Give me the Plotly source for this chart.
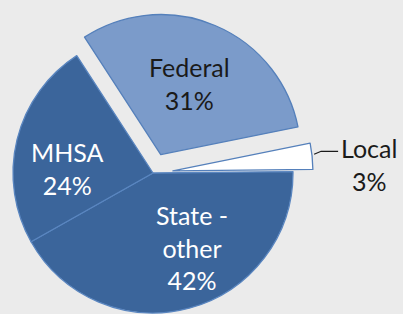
import numpy as np
import plotly.graph_objects as go

# ---- data ----
labels = ["Federal", "Local", "State - other", "MHSA"]
values = [31, 3, 42, 24]
display_labels = ["Federal", "Local", "State -<br>other", "MHSA"]
pulled = [True, True, False, False]
colors = ["#7b9bca", "#ffffff", "#3b659b", "#3b659b"]
line_colors = ["#5580bb", "#5580bb", "#5a86c0", "#5a86c0"]
text_colors = ["#1a1a1a", "#1a1a1a", "#ffffff", "#ffffff"]

# ---- layout / style constants ----
W, H = 403, 314
R = 140
CX, CY = 153, 173
PULL = 20
ROT = -33
BG = "#ebebeb"
FONT = "Lato"
FS = 25
# label placement (angle clockwise from 12 o'clock in degrees, distance in px)
# relative to each slice's own (pulled) centre; None = outside label
label_polar = [(22.2, 77), None, (152.2, 84), (273.3, 86)]

vals = np.array(values, dtype=float)
total = vals.sum()
start = ROT + 360 * (np.cumsum(vals) - vals) / total
mid = np.deg2rad(start + 180 * vals / total)


def slice_center(i):
    if pulled[i]:
        return CX + PULL * np.sin(mid[i]), CY - PULL * np.cos(mid[i])
    return CX, CY


def domain(cx, cy):
    return dict(x=[(cx - R) / W, (cx + R) / W], y=[1 - (cy + R) / H, 1 - (cy - R) / H])


def pie_trace(show, cx, cy):
    n = len(values)
    return go.Pie(
        labels=labels,
        values=values,
        sort=False,
        direction="clockwise",
        rotation=ROT,
        domain=domain(cx, cy),
        marker=dict(
            colors=[colors[i] if show[i] else "rgba(0,0,0,0)" for i in range(n)],
            line=dict(
                color=[line_colors[i] if show[i] else "rgba(0,0,0,0)" for i in range(n)],
                width=[1.3 if show[i] else 0 for i in range(n)],
            ),
        ),
        textinfo="none",
        showlegend=False,
        hoverinfo="label+percent",
    )


fig = go.Figure()
# non-pulled slices
fig.add_trace(pie_trace([not p for p in pulled], CX, CY))
# each pulled slice in its own trace, shifted outward along its bisector
for i, p in enumerate(pulled):
    if p:
        cx, cy = slice_center(i)
        show = [j == i for j in range(len(values))]
        fig.add_trace(pie_trace(show, cx, cy))

# inside labels
pct = np.round(100 * vals / total).astype(int)
for i in range(len(values)):
    if label_polar[i] is None:
        continue
    ang, dist = label_polar[i]
    cx, cy = slice_center(i)
    tx = cx + dist * np.sin(np.deg2rad(ang))
    ty = cy - dist * np.cos(np.deg2rad(ang))
    fig.add_annotation(
        x=tx / W, y=1 - ty / H, xref="paper", yref="paper",
        xanchor="center", yanchor="middle", showarrow=False, align="center",
        text=f"{display_labels[i]}<br>{pct[i]}%",
        font=dict(family=FONT, size=FS, color=text_colors[i]),
    )

# outside label for Local with a short leader line
li = labels.index("Local")
lcx, lcy = slice_center(li)
ex = lcx + R * np.sin(mid[li])
ey = lcy - R * np.cos(mid[li])
pts = [(ex + 2, ey - 2), (ex + 9, ey - 5), (ex + 26, ey - 5)]
path = "M " + " L ".join(f"{x / W},{1 - y / H}" for x, y in pts)
fig.add_shape(type="path", path=path, xref="paper", yref="paper",
              line=dict(color="#1a1a1a", width=1.2))
fig.add_annotation(
    x=(ex + 27) / W, y=1 - (ey - 5) / H, xref="paper", yref="paper",
    xanchor="left", yanchor="middle", yshift=-13,
    text=f"{display_labels[li]}<br>{pct[li]}%", showarrow=False, align="center",
    font=dict(family=FONT, size=FS, color=text_colors[li]),
)

fig.update_layout(
    width=W, height=H,
    margin=dict(l=0, r=0, t=0, b=0),
    paper_bgcolor=BG, plot_bgcolor=BG,
    font=dict(family=FONT),
)

fig.write_html(
    "out.html",
    config={"displayModeBar": False},
    post_script="document.body.style.margin='0';document.body.style.padding='0';"
                "document.body.style.overflow='hidden';document.body.style.background='#ebebeb';",
)
